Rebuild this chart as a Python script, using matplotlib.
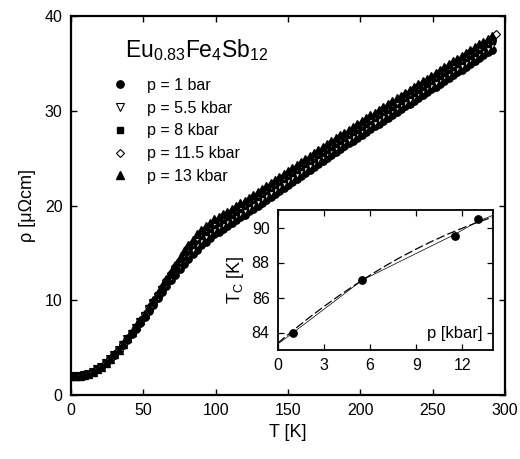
import matplotlib
matplotlib.use('Agg')
import matplotlib.pyplot as plt
import numpy as np

plt.rcParams['font.family'] = ['Liberation Sans', 'DejaVu Sans']
plt.rcParams['mathtext.fontset'] = 'custom'
plt.rcParams['mathtext.rm'] = 'Liberation Sans'
plt.rcParams['mathtext.it'] = 'Liberation Sans:italic'

# temperature grid of the measurements (K)
T_main = np.arange(0, 292, 3)
T_115 = np.arange(0, 295, 3)

# resistivity (micro-ohm cm) for each pressure
rho_1bar = [2.00, 2.01, 2.05, 2.12, 2.25, 2.45, 2.70, 3.00,
            3.35, 3.75, 4.20, 4.70, 5.25, 5.80, 6.40, 7.00, 7.60, 8.25, 8.90, 9.55, 10.20, 10.85, 11.50,
            12.10, 12.70, 13.25, 13.80, 14.35, 14.85, 15.35, 15.80, 16.20, 16.60, 16.95, 17.25, 17.55,
            17.85, 18.15, 18.45, 18.75, 19.05,
            19.37, 19.68, 20.00, 20.31, 20.63, 20.94, 21.26, 21.57, 21.89, 22.20, 22.52, 22.83, 23.15,
            23.46, 23.78, 24.09, 24.41, 24.72, 25.04, 25.35,
            25.65, 25.95, 26.25, 26.55, 26.85, 27.15, 27.45, 27.75, 28.05, 28.35, 28.65, 28.95, 29.25,
            29.55, 29.85, 30.15, 30.45, 30.75, 31.05, 31.35, 31.65, 31.95, 32.25, 32.55, 32.85, 33.15,
            33.45, 33.75, 34.05, 34.35, 34.65, 34.95, 35.25, 35.55, 35.85, 36.15, 36.45]
rho_5p5 = [2.00, 2.01, 2.05, 2.12, 2.25, 2.45, 2.70, 3.00,
           3.36, 3.77, 4.23, 4.74, 5.30, 5.86, 6.47, 7.09, 7.71, 8.37, 9.04, 9.71, 10.39, 11.08, 11.76,
           12.42, 13.07, 13.67, 14.27, 14.86, 15.39, 15.91, 16.37, 16.77, 17.16, 17.50, 17.79, 18.09,
           18.38, 18.68, 18.97, 19.26, 19.56,
           19.88, 20.19, 20.51, 20.82, 21.14, 21.45, 21.77, 22.08, 22.40, 22.71, 23.03, 23.34, 23.66,
           23.97, 24.29, 24.60, 24.92, 25.23, 25.55, 25.86,
           26.16, 26.46, 26.76, 27.06, 27.36, 27.66, 27.96, 28.26, 28.56, 28.86, 29.16, 29.46, 29.76,
           30.06, 30.36, 30.66, 30.96, 31.26, 31.56, 31.86, 32.16, 32.46, 32.76, 33.06, 33.36, 33.66,
           33.96, 34.26, 34.56, 34.86, 35.16, 35.46, 35.76, 36.06, 36.36, 36.66, 36.96]
rho_8 = [2.00, 2.01, 2.05, 2.12, 2.25, 2.45, 2.70, 3.00,
         3.37, 3.78, 4.25, 4.76, 5.33, 5.91, 6.52, 7.15, 7.78, 8.46, 9.14, 9.82, 10.53, 11.24, 11.95,
         12.64, 13.33, 13.97, 14.61, 15.22, 15.78, 16.31, 16.77, 17.17, 17.56, 17.90, 18.18, 18.47,
         18.75, 19.05, 19.34, 19.63, 19.92,
         20.24, 20.55, 20.87, 21.18, 21.50, 21.81, 22.13, 22.44, 22.76, 23.07, 23.39, 23.70, 24.02,
         24.33, 24.65, 24.96, 25.28, 25.59, 25.91, 26.22,
         26.52, 26.82, 27.12, 27.42, 27.72, 28.02, 28.32, 28.62, 28.92, 29.22, 29.52, 29.82, 30.12,
         30.42, 30.72, 31.02, 31.32, 31.62, 31.92, 32.22, 32.52, 32.82, 33.12, 33.42, 33.72, 34.02,
         34.32, 34.62, 34.92, 35.22, 35.52, 35.82, 36.12, 36.42, 36.72, 37.02, 37.32]
rho_11p5 = [2.00, 2.01, 2.05, 2.12, 2.25, 2.45, 2.70, 3.00,
            3.38, 3.79, 4.27, 4.79, 5.36, 5.95, 6.57, 7.21, 7.86, 8.55, 9.24, 9.93, 10.67, 11.40, 12.14,
            12.87, 13.59, 14.27, 14.95, 15.58, 16.17, 16.71, 17.18, 17.58, 17.96, 18.29, 18.57, 18.85,
            19.13, 19.43, 19.71, 20.00, 20.28,
            20.60, 20.91, 21.23, 21.54, 21.86, 22.17, 22.49, 22.80, 23.12, 23.43, 23.75, 24.06, 24.38,
            24.69, 25.01, 25.32, 25.64, 25.95, 26.27, 26.58,
            26.88, 27.18, 27.48, 27.78, 28.08, 28.38, 28.68, 28.98, 29.28, 29.58, 29.88, 30.18, 30.48,
            30.78, 31.08, 31.38, 31.68, 31.98, 32.28, 32.58, 32.88, 33.18, 33.48, 33.78, 34.08, 34.38,
            34.68, 34.98, 35.28, 35.58, 35.88, 36.18, 36.48, 36.78, 37.08, 37.38, 37.68, 38.15]
rho_13 = [2.00, 2.01, 2.05, 2.12, 2.25, 2.45, 2.70, 3.00,
          3.38, 3.80, 4.28, 4.80, 5.38, 5.98, 6.60, 7.25, 7.90, 8.60, 9.30, 10.00, 10.75, 11.50, 12.25,
          13.00, 13.75, 14.45, 15.15, 15.80, 16.40, 16.95, 17.42, 17.82, 18.20, 18.53, 18.80, 19.08,
          19.35, 19.65, 19.93, 20.22, 20.50,
          20.82, 21.13, 21.45, 21.76, 22.08, 22.39, 22.71, 23.02, 23.34, 23.65, 23.97, 24.28, 24.60,
          24.91, 25.23, 25.54, 25.86, 26.17, 26.49, 26.80,
          27.10, 27.40, 27.70, 28.00, 28.30, 28.60, 28.90, 29.20, 29.50, 29.80, 30.10, 30.40, 30.70,
          31.00, 31.30, 31.60, 31.90, 32.20, 32.50, 32.80, 33.10, 33.40, 33.70, 34.00, 34.30, 34.60,
          34.90, 35.20, 35.50, 35.80, 36.10, 36.40, 36.70, 37.00, 37.30, 37.60, 37.90]

labels = ['p = 1 bar', 'p = 5.5 kbar', 'p = 8 kbar', 'p = 11.5 kbar', 'p = 13 kbar']

# inset: transition temperature vs pressure
p_kbar = [1.0, 5.5, 11.5, 13.0]
Tc = [84.0, 87.0, 89.5, 90.5]
# dashed fit curve
p_fit = [0, 1, 2, 3, 4, 5, 6, 7, 8, 9, 10, 11, 12, 13, 14]
Tc_fit = [83.40, 84.13, 84.83, 85.49, 86.12, 86.71, 87.28, 87.81, 88.31, 88.77, 89.20, 89.60,
          89.96, 90.30, 90.60]
# thin solid guide line
p_line = [0.0, 1.0, 5.5, 11.5, 13.0, 14.0]
Tc_line = [83.35, 84.0, 87.0, 89.6, 90.35, 90.7]

fig = plt.figure(figsize=(5.2, 4.59), dpi=100)
ax = fig.add_axes([71 / 520, 1 - 395 / 459, 434 / 520, 379 / 459])

ax.plot(T_main, rho_1bar, 'o', ms=5.3, color='black', mec='black', label=labels[0])
ax.plot(T_main, rho_5p5, 'v', ms=5.8, mfc='white', mec='black', mew=0.8, label=labels[1])
ax.plot(T_main, rho_8, 's', ms=4.6, color='black', label=labels[2])
ax.plot(T_115, rho_11p5, 'D', ms=4.3, mfc='white', mec='black', mew=0.8, label=labels[3])
ax.plot(T_main, rho_13, '^', ms=5.8, color='black', label=labels[4])

ax.set_xlim(0, 300)
ax.set_ylim(0, 40)
ax.set_xticks([0, 50, 100, 150, 200, 250, 300])
ax.set_yticks([0, 10, 20, 30, 40])
ax.tick_params(direction='in', length=4.5, width=1, labelsize=11.5, top=True, right=True, pad=6)
for s in ax.spines.values():
    s.set_linewidth(1.6)
ax.set_xlabel('T [K]', fontsize=13, labelpad=4)
ax.set_ylabel('ρ [μΩcm]', fontsize=13, labelpad=6)

ax.text(0.124, 0.910, r'Eu$_{0.83}$Fe$_4$Sb$_{12}$', transform=ax.transAxes, fontsize=16.5,
        ha='left', va='center')
ax.legend(loc='upper left', bbox_to_anchor=(0.094, 0.837), frameon=False, fontsize=11.5,
          handlelength=1.0, handletextpad=1.2, labelspacing=0.49, borderpad=0, borderaxespad=0,
          numpoints=1)

# inset
axin = fig.add_axes([278 / 520, 1 - 350 / 459, 215 / 520, 140 / 459])
axin.plot(p_fit, Tc_fit, color='black', lw=0.9, dashes=(7, 2.5))
axin.plot(p_line, Tc_line, color='black', lw=0.5)
axin.plot(p_kbar, Tc, 'o', ms=5.3, color='black')
axin.set_xlim(0, 14)
axin.set_ylim(83, 91)
axin.set_xticks([0, 3, 6, 9, 12])
axin.set_yticks([84, 86, 88, 90])
axin.tick_params(direction='in', length=4, width=0.9, labelsize=11.5, top=True, right=True, pad=6)
for s in axin.spines.values():
    s.set_linewidth(1.3)
axin.set_ylabel(r'T$_\mathregular{C}$ [K]', fontsize=13, labelpad=4)
axin.text(0.95, 0.12, 'p [kbar]', transform=axin.transAxes, fontsize=12, ha='right', va='center')

fig.savefig('out.png', dpi=100)
